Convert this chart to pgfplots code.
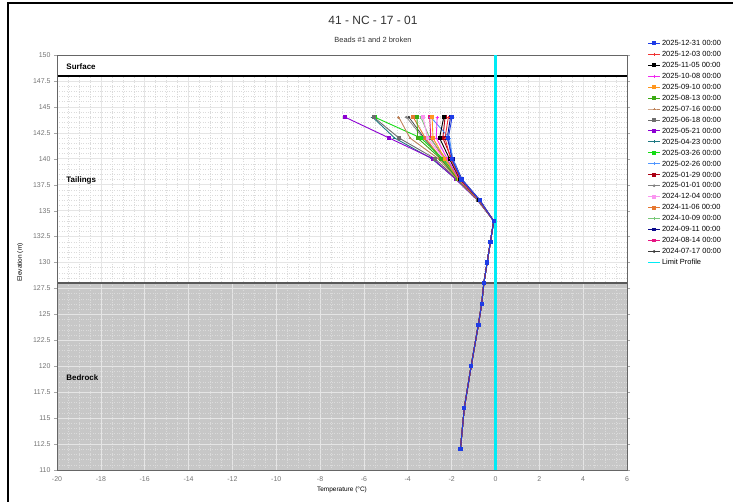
\documentclass[border=0pt]{standalone}
\usepackage{pgfplots}
\pgfplotsset{compat=1.18}
\usepackage{fontspec}
\setmainfont{Liberation Sans}
\definecolor{cBlue}{RGB}{30,60,230}
\definecolor{cRed}{RGB}{240,50,50}
\definecolor{cBlack}{RGB}{0,0,0}
\definecolor{cMag}{RGB}{240,40,240}
\definecolor{cOrange}{RGB}{255,150,30}
\definecolor{cGreen}{RGB}{60,170,20}
\definecolor{cBrown}{RGB}{190,130,90}
\definecolor{cGray}{RGB}{110,110,110}
\definecolor{cPurple}{RGB}{140,0,210}
\definecolor{cTeal}{RGB}{30,120,130}
\definecolor{cLime}{RGB}{20,220,20}
\definecolor{cLBlue}{RGB}{80,150,255}
\definecolor{cDRed}{RGB}{170,0,20}
\definecolor{cGray2}{RGB}{130,130,130}
\definecolor{cPink}{RGB}{250,150,240}
\definecolor{cOBrown}{RGB}{230,120,50}
\definecolor{cLGreen}{RGB}{120,200,120}
\definecolor{cNavy}{RGB}{10,10,140}
\definecolor{cDPink}{RGB}{230,20,130}
\definecolor{cDGray}{RGB}{60,60,60}
\definecolor{limcyan}{rgb}{0,0.92,0.96}
\begin{document}
\begin{tikzpicture}
\begin{axis}[
  set layers,
  scale only axis, width=570bp, height=415bp,
  xmin=-20, xmax=6, ymin=110, ymax=150,
  xtick={-20,-18,...,6}, ytick={110,112.5,...,150},
  yticklabel style={/pgf/number format/.cd,fixed,precision=1},
  /pgf/number format/assume math mode=true,
  tick label style={font=\fontsize{7}{8}\selectfont, text=black!55},
  minor x tick num=3, minor y tick num=4,
  grid=both,
  major grid style={black!10, line width=0.6pt},
  minor grid style={black!14, dotted, line width=0.4pt},
  axis line style={black!60, line width=1pt},
  tick style={black!35},
  tick align=outside, major tick length=3bp, minor tick length=0pt,
  xtick style={draw=none},
  xlabel={Temperature (°C)}, ylabel={Elevation (m)},
  label style={font=\fontsize{6.5}{7}\selectfont},
  xlabel style={yshift=1bp},
  ylabel style={yshift=3bp},
  reverse legend,
  legend style={at={(1.03,1.045)}, anchor=north west, draw=none, fill=none,
    font=\fontsize{7.5}{8}\selectfont, row sep=1.5pt,
    nodes={inner sep=1pt, text height=6pt, text depth=1.5pt}},
  legend cell align=left,
  legend image code/.code={\draw[mark repeat=2,mark phase=2] plot coordinates {(0bp,0bp) (6bp,0bp) (12bp,0bp)};},
  every axis plot/.append style={line width=0.9pt, mark size=1.4pt},
]
% background bands
\begin{pgfonlayer}{axis background}
\fill[black!22] (axis cs:-20,110) rectangle (axis cs:6,128);
\end{pgfonlayer}
\fill[white] (axis cs:-20,148) rectangle (axis cs:6,150);
\draw[black, line width=1.6pt] (axis cs:-20,148) -- (axis cs:6,148);
\draw[black!65, line width=1.6pt] (axis cs:-20,128) -- (axis cs:6,128);
\draw[black!60, line width=1pt] (rel axis cs:0,0) rectangle (rel axis cs:1,1);
\node[anchor=west, font=\fontsize{8}{9}\selectfont\bfseries] at (axis cs:-19.73,148.9) {Surface};
\node[anchor=west, font=\fontsize{8}{9}\selectfont\bfseries] at (axis cs:-19.73,137.9) {Tailings};
\node[anchor=west, font=\fontsize{8}{9}\selectfont\bfseries] at (axis cs:-19.73,118.9) {Bedrock};

% Limit profile
\addplot[draw=limcyan, line width=2.2pt, mark=none, forget plot] table[x=x, y=y] {
x y
0 110
0 150
};
\addlegendimage{draw=limcyan, line width=1.8pt, no marks}
\addlegendentry{Limit Profile}
% 2024-07-17
\addplot[cDGray, mark=*, mark size=1pt, line width=0.7pt] coordinates {(-3.95,144) (-3.25,142) (-2.5,140) (-1.7,138) (-0.78,136) (-0.08,134) (-0.23,132) (-0.38,130) (-0.53,128) (-0.63,126) (-0.78,124) (-1.11,120) (-1.42,116) (-1.6,112)};
\addlegendentry{2024-07-17 00:00}
\addplot[cDPink, mark=square*] coordinates {(-3.0,144) (-2.95,142) (-2.35,140) (-1.66,138) (-0.76,136) (-0.08,134) (-0.23,132) (-0.38,130) (-0.53,128) (-0.63,126) (-0.78,124) (-1.11,120) (-1.42,116) (-1.6,112)};
\addlegendentry{2024-08-14 00:00}
\addplot[cNavy, mark=square*] coordinates {(-2.05,144) (-2.2,142) (-1.95,140) (-1.52,138) (-0.7,136) (-0.08,134) (-0.23,132) (-0.38,130) (-0.53,128) (-0.63,126) (-0.78,124) (-1.11,120) (-1.42,116) (-1.6,112)};
\addlegendentry{2024-09-11 00:00}
\addplot[cLGreen, mark=+] coordinates {(-3.4,144) (-3.0,142) (-2.25,140) (-1.65,138) (-0.75,136) (-0.08,134) (-0.23,132) (-0.38,130) (-0.53,128) (-0.63,126) (-0.78,124) (-1.11,120) (-1.42,116) (-1.6,112)};
\addlegendentry{2024-10-09 00:00}
\addplot[cOBrown, mark=square*] coordinates {(-3.75,144) (-3.2,142) (-2.45,140) (-1.7,138) (-0.77,136) (-0.08,134) (-0.23,132) (-0.38,130) (-0.53,128) (-0.63,126) (-0.78,124) (-1.11,120) (-1.42,116) (-1.6,112)};
\addlegendentry{2024-11-06 00:00}
\addplot[cPink, mark=square*] coordinates {(-3.3,144) (-3.1,142) (-2.35,140) (-1.66,138) (-0.76,136) (-0.08,134) (-0.23,132) (-0.38,130) (-0.53,128) (-0.63,126) (-0.78,124) (-1.11,120) (-1.42,116) (-1.6,112)};
\addlegendentry{2024-12-04 00:00}
\addplot[cGray2, mark=*, mark size=1pt, line width=0.7pt] coordinates {(-4.06,144) (-3.3,142) (-2.45,140) (-1.68,138) (-0.77,136) (-0.08,134) (-0.23,132) (-0.38,130) (-0.53,128) (-0.63,126) (-0.78,124) (-1.11,120) (-1.42,116) (-1.6,112)};
\addlegendentry{2025-01-01 00:00}
\addplot[cDRed, mark=square*] coordinates {(-2.3,144) (-2.4,142) (-2.0,140) (-1.58,138) (-0.73,136) (-0.08,134) (-0.23,132) (-0.38,130) (-0.53,128) (-0.63,126) (-0.78,124) (-1.11,120) (-1.42,116) (-1.6,112)};
\addlegendentry{2025-01-29 00:00}
\addplot[cLBlue, mark=+] coordinates {(-2.95,144) (-2.1,142) (-1.95,140) (-1.55,138) (-0.72,136) (-0.08,134) (-0.23,132) (-0.38,130) (-0.53,128) (-0.63,126) (-0.78,124) (-1.11,120) (-1.42,116) (-1.6,112)};
\addlegendentry{2025-02-26 00:00}
\addplot[cLime, mark=square*] coordinates {(-5.5,144) (-3.4,142) (-2.4,140) (-1.6,138) (-0.75,136) (-0.08,134) (-0.23,132) (-0.38,130) (-0.53,128) (-0.63,126) (-0.78,124) (-1.11,120) (-1.42,116) (-1.6,112)};
\addlegendentry{2025-03-26 00:00}
\addplot[cTeal, mark=+] coordinates {(-5.6,144) (-4.6,142) (-2.9,140) (-1.78,138) (-0.8,136) (-0.08,134) (-0.23,132) (-0.38,130) (-0.53,128) (-0.63,126) (-0.78,124) (-1.11,120) (-1.42,116) (-1.6,112)};
\addlegendentry{2025-04-23 00:00}
\addplot[cPurple, mark=square*] coordinates {(-6.85,144) (-4.85,142) (-2.85,140) (-1.8,138) (-0.82,136) (-0.08,134) (-0.23,132) (-0.38,130) (-0.53,128) (-0.63,126) (-0.78,124) (-1.11,120) (-1.42,116) (-1.6,112)};
\addlegendentry{2025-05-21 00:00}
\addplot[cGray, mark=square*] coordinates {(-5.55,144) (-4.4,142) (-2.75,140) (-1.75,138) (-0.8,136) (-0.08,134) (-0.23,132) (-0.38,130) (-0.53,128) (-0.63,126) (-0.78,124) (-1.11,120) (-1.42,116) (-1.6,112)};
\addlegendentry{2025-06-18 00:00}
\addplot[cBrown, mark=+] coordinates {(-4.41,144) (-3.9,142) (-2.6,140) (-1.72,138) (-0.78,136) (-0.08,134) (-0.23,132) (-0.38,130) (-0.53,128) (-0.63,126) (-0.78,124) (-1.11,120) (-1.42,116) (-1.6,112)};
\addlegendentry{2025-07-16 00:00}
\addplot[cGreen, mark=square*] coordinates {(-3.58,144) (-3.55,142) (-2.5,140) (-1.7,138) (-0.78,136) (-0.08,134) (-0.23,132) (-0.38,130) (-0.53,128) (-0.63,126) (-0.78,124) (-1.11,120) (-1.42,116) (-1.6,112)};
\addlegendentry{2025-08-13 00:00}
\addplot[cOrange, mark=square*] coordinates {(-2.89,144) (-2.85,142) (-2.3,140) (-1.68,138) (-0.76,136) (-0.08,134) (-0.23,132) (-0.38,130) (-0.53,128) (-0.63,126) (-0.78,124) (-1.11,120) (-1.42,116) (-1.6,112)};
\addlegendentry{2025-09-10 00:00}
\addplot[cMag, mark=+] coordinates {(-2.66,144) (-2.7,142) (-2.2,140) (-1.65,138) (-0.75,136) (-0.08,134) (-0.23,132) (-0.38,130) (-0.53,128) (-0.63,126) (-0.78,124) (-1.11,120) (-1.42,116) (-1.6,112)};
\addlegendentry{2025-10-08 00:00}
\addplot[cBlack, mark=square*] coordinates {(-2.36,144) (-2.55,142) (-2.1,140) (-1.62,138) (-0.74,136) (-0.08,134) (-0.23,132) (-0.38,130) (-0.53,128) (-0.63,126) (-0.78,124) (-1.11,120) (-1.42,116) (-1.6,112)};
\addlegendentry{2025-11-05 00:00}
\addplot[cRed, mark=+] coordinates {(-2.15,144) (-2.3,142) (-2.05,140) (-1.6,138) (-0.74,136) (-0.08,134) (-0.23,132) (-0.38,130) (-0.53,128) (-0.63,126) (-0.78,124) (-1.11,120) (-1.42,116) (-1.6,112)};
\addlegendentry{2025-12-03 00:00}
\addplot[cBlue, mark=square*, mark size=1.6pt] coordinates {(-1.98,144) (-2.15,142) (-2.0,140) (-1.55,138) (-0.72,136) (-0.08,134) (-0.23,132) (-0.38,130) (-0.53,128) (-0.63,126) (-0.78,124) (-1.11,120) (-1.42,116) (-1.6,112)};
\addlegendentry{2025-12-31 00:00}
\end{axis}
\node[font=\fontsize{12}{14}\selectfont, text=black!80] at (316bp,450bp) {41 - NC - 17 - 01};
\node[font=\fontsize{7.5}{9}\selectfont, text=black!80] at (316bp,430bp) {Beads \#1 and 2 broken};
\draw[black, line width=1.8bp] (-49bp,-32bp) -- (-49bp,467bp) -- (676bp,467bp);
\pgfresetboundingbox
\path[use as bounding box] (-57bp,-32bp) rectangle (676bp,470bp);
\end{tikzpicture}
\end{document}
